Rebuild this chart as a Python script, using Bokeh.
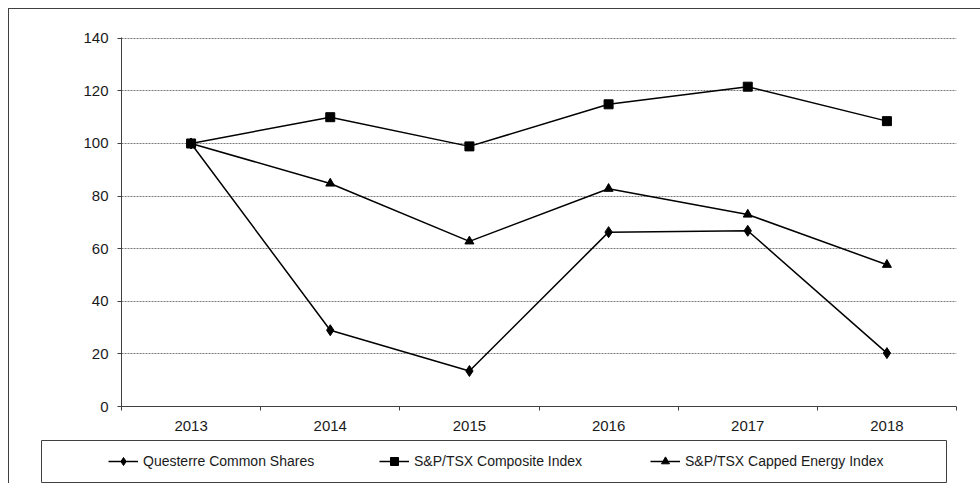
from bokeh.plotting import figure
from bokeh.layouts import column
from bokeh.models import Range1d, FixedTicker, Legend, LegendItem
from bokeh.embed import file_html
from bokeh.resources import INLINE

years = ["2013", "2014", "2015", "2016", "2017", "2018"]
questerre = [100, 29.0, 13.5, 66.3, 66.8, 20.3]
composite = [100, 110.0, 98.9, 114.9, 121.6, 108.5]
energy = [100, 84.8, 62.8, 82.8, 73.0, 53.9]
y_ticks = [0, 20, 40, 60, 80, 100, 120, 140]

series_labels = ["Questerre Common Shares", "S&P/TSX Composite Index",
                 "S&P/TSX Capped Energy Index"]
series_values = [questerre, composite, energy]
series_markers = ["diamond", "square", "triangle"]
series_sizes = [11, 9, 9]

xs = [i + 0.5 for i in range(len(years))]

FONT = "Liberation Sans"
TXT = "#1a1a1a"
AX = "#404040"

p = figure(width=971, height=430, output_backend="svg", toolbar_location=None,
           x_range=Range1d(0, len(years)), y_range=Range1d(0, 140.3),
           min_border_left=112, min_border_right=24, min_border_top=28,
           min_border_bottom=33)
p.frame_align = False
p.outline_line_color = None
p.xgrid.grid_line_color = None
p.ygrid.ticker = FixedTicker(ticks=y_ticks[1:])
p.ygrid.grid_line_color = "#7a7a7a"
p.ygrid.grid_line_dash = "2 1"
p.ygrid.grid_line_width = 1

p.yaxis.ticker = FixedTicker(ticks=y_ticks)
p.yaxis.axis_line_color = AX
p.yaxis.major_tick_line_color = AX
p.yaxis.major_tick_out = 4
p.yaxis.major_tick_in = 0
p.yaxis.minor_tick_line_color = None
p.yaxis.major_label_standoff = 9
p.yaxis.major_label_text_font = FONT
p.yaxis.major_label_text_font_size = "15px"
p.yaxis.major_label_text_color = TXT

p.xaxis.ticker = FixedTicker(ticks=xs, minor_ticks=list(range(len(years) + 1)))
p.xaxis.major_label_overrides = {x: y for x, y in zip(xs, years)}
p.xaxis.major_tick_line_color = None
p.xaxis.major_tick_out = 0
p.xaxis.major_tick_in = 0
p.xaxis.minor_tick_line_color = AX
p.xaxis.minor_tick_out = 4
p.xaxis.minor_tick_in = 0
p.xaxis.axis_line_color = AX
p.xaxis.major_label_standoff = 10
p.xaxis.major_label_text_font = FONT
p.xaxis.major_label_text_font_size = "15px"
p.xaxis.major_label_text_color = TXT

# legend box as its own small figure
p2 = figure(width=907, height=44, output_backend="svg", toolbar_location=None,
            x_axis_type=None, y_axis_type=None, min_border=1,
            x_range=Range1d(0, len(years)), y_range=Range1d(0, 140),
            margin=(0, 0, 0, 31))
p2.frame_align = False
p2.grid.visible = False
p2.outline_line_color = AX

items = []
for label, vals, marker, size in zip(series_labels, series_values,
                                     series_markers, series_sizes):
    p.line(xs, vals, line_color="black", line_width=1.5)
    p.scatter(xs, vals, marker=marker, size=size, fill_color="black",
              line_color="black")
    lr = p2.line(xs, vals, line_color="black", line_width=1.5, visible=False)
    sr = p2.scatter(xs, vals, marker=marker, size=size, fill_color="black",
                    line_color="black", visible=False)
    items.append(LegendItem(label=label, renderers=[lr, sr]))

legend = Legend(items=items, orientation="horizontal", location=(67, 11),
                padding=0, spacing=16, margin=0, glyph_width=30, glyph_height=20,
                label_width=220, label_height=20, label_standoff=5,
                label_text_font=FONT, label_text_font_size="14px",
                label_text_color=TXT, inactive_fill_alpha=0,
                border_line_color=None, background_fill_alpha=0)
p2.add_layout(legend, "center")

layout = column(p, p2, spacing=0, margin=(8, 0, 0, 8),
                styles={"border-left": "1px solid #404040",
                        "border-top": "1px solid #404040"})

open("out.html", "w").write(file_html(layout, INLINE))
